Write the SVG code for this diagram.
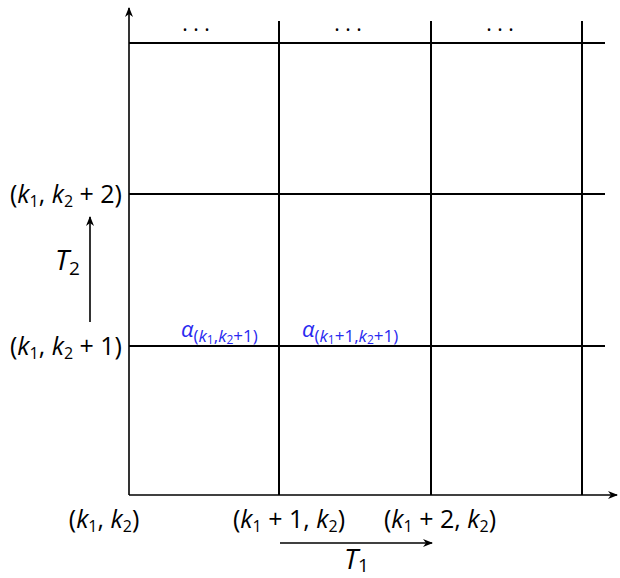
<svg xmlns="http://www.w3.org/2000/svg" width="620" height="578" viewBox="0 0 620 578">
<style>
.g{stroke:#000;stroke-width:2;fill:none}
.ax{stroke:#000;stroke-width:1.6;fill:none}
text{font-family:"Open Sans","DejaVu Sans",sans-serif;fill:#000}
.l{font-size:25px}
.i{font-style:italic}
.s{font-size:16px}
.a{fill:#2a2af0;font-size:22px}
.as{font-size:17px}
.ass{font-size:12px}
.dots{font-size:21px}
.T{font-size:28px}
.Ts{font-size:19px}
</style>
<defs>
<marker id="ah" markerWidth="10" markerHeight="8" refX="9" refY="4" orient="auto" markerUnits="userSpaceOnUse">
<path d="M0,0 L10,4 L0,8 L3,4 Z" fill="#000"/>
</marker>
</defs>
<g id="connectors">
<line class="ax" x1="129" y1="495" x2="129" y2="8" marker-end="url(#ah)"/>
<line class="ax" x1="129" y1="495" x2="617" y2="495" marker-end="url(#ah)"/>
<line class="g" x1="279" y1="21" x2="279" y2="495"/>
<line class="g" x1="431" y1="21" x2="431" y2="495"/>
<line class="g" x1="582" y1="21" x2="582" y2="495"/>
<line class="g" x1="129" y1="43" x2="605" y2="43"/>
<line class="g" x1="129" y1="194" x2="605" y2="194"/>
<line class="g" x1="129" y1="346" x2="605" y2="346"/>
<line class="ax" x1="90" y1="322" x2="90" y2="217" marker-end="url(#ah)"/>
<line class="ax" x1="280" y1="543" x2="432" y2="543" marker-end="url(#ah)"/>
</g>
<g id="dots">
<text class="dots" x="196" y="37" text-anchor="middle">· · ·</text>
<text class="dots" x="348" y="37" text-anchor="middle">· · ·</text>
<text class="dots" x="500" y="37" text-anchor="middle">· · ·</text>
</g>
<g id="label-k1k2p2"><text class="l" x="122" y="203" text-anchor="end">(<tspan class="i">k</tspan><tspan class="s" dy="4">1</tspan><tspan dy="-4">, </tspan><tspan class="i">k</tspan><tspan class="s" dy="4">2</tspan><tspan dy="-4"> + 2)</tspan></text></g>
<g id="label-k1k2p1"><text class="l" x="122" y="355" text-anchor="end">(<tspan class="i">k</tspan><tspan class="s" dy="4">1</tspan><tspan dy="-4">, </tspan><tspan class="i">k</tspan><tspan class="s" dy="4">2</tspan><tspan dy="-4"> + 1)</tspan></text></g>
<g id="label-T2"><text class="T" x="55" y="270"><tspan class="i">T</tspan><tspan class="Ts" dy="5">2</tspan></text></g>
<g id="label-k1k2"><text class="l" x="104" y="528" text-anchor="middle">(<tspan class="i">k</tspan><tspan class="s" dy="4">1</tspan><tspan dy="-4">, </tspan><tspan class="i">k</tspan><tspan class="s" dy="4">2</tspan><tspan dy="-4">)</tspan></text></g>
<g id="label-k1p1k2"><text class="l" x="289" y="528" text-anchor="middle">(<tspan class="i">k</tspan><tspan class="s" dy="4">1</tspan><tspan dy="-4"> + 1, </tspan><tspan class="i">k</tspan><tspan class="s" dy="4">2</tspan><tspan dy="-4">)</tspan></text></g>
<g id="label-k1p2k2"><text class="l" x="440" y="528" text-anchor="middle">(<tspan class="i">k</tspan><tspan class="s" dy="4">1</tspan><tspan dy="-4"> + 2, </tspan><tspan class="i">k</tspan><tspan class="s" dy="4">2</tspan><tspan dy="-4">)</tspan></text></g>
<g id="label-T1"><text class="T" x="344" y="569"><tspan class="i">T</tspan><tspan class="Ts" dy="3">1</tspan></text></g>
<g id="alpha1"><text class="a" x="181" y="337"><tspan class="i">α</tspan><tspan class="as" dy="5">(<tspan class="i">k</tspan><tspan class="ass" dy="2">1</tspan><tspan dy="-2">,</tspan><tspan class="i">k</tspan><tspan class="ass" dy="2">2</tspan><tspan dy="-2">+1)</tspan></tspan></text></g>
<g id="alpha2"><text class="a" x="302" y="337"><tspan class="i">α</tspan><tspan class="as" dy="5">(<tspan class="i">k</tspan><tspan class="ass" dy="2">1</tspan><tspan dy="-2">+1,</tspan><tspan class="i">k</tspan><tspan class="ass" dy="2">2</tspan><tspan dy="-2">+1)</tspan></tspan></text></g>
</svg>
